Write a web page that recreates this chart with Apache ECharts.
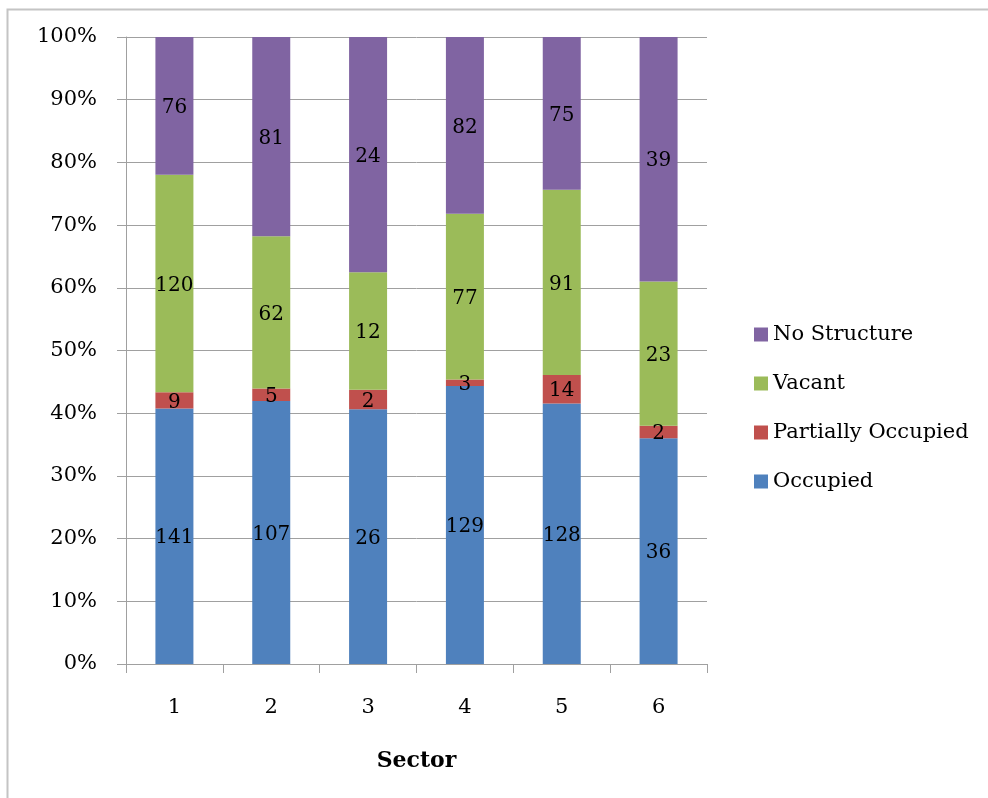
<!DOCTYPE html>
<html>
<head>
<meta charset="utf-8">
<script src="https://cdn.jsdelivr.net/npm/echarts@6/dist/echarts.min.js"></script>
<style>html,body{margin:0;padding:0;background:#fff;}#c{width:988px;height:798px;}</style>
</head>
<body>
<div id="c"></div>
<script>
const categories = ['1', '2', '3', '4', '5', '6'];
const occupied = [141, 107, 26, 129, 128, 36];
const partiallyOccupied = [9, 5, 2, 3, 14, 2];
const vacant = [120, 62, 12, 77, 91, 23];
const noStructure = [76, 81, 24, 82, 75, 39];
const yTicks = [0, 10, 20, 30, 40, 50, 60, 70, 80, 90, 100];

const totals = categories.map((_, i) => occupied[i] + partiallyOccupied[i] + vacant[i] + noStructure[i]);
const pct = arr => arr.map((v, i) => v / totals[i] * 100);

const FONT = '"DejaVu Serif", "Liberation Serif", serif';
const colors = { occ: '#4F81BD', part: '#C0504D', vac: '#9BBB59', none: '#8064A2' };

function mkSeries(name, raw, color) {
  return {
    name: name,
    type: 'bar',
    stack: 'total',
    barWidth: 38,
    data: pct(raw),
    itemStyle: { color: color },
    label: {
      show: true,
      position: 'inside',
      offset: [0, 2],
      color: '#000',
      fontFamily: FONT,
      fontSize: 20,
      formatter: p => String(raw[p.dataIndex])
    }
  };
}

const chart = echarts.init(document.getElementById('c'));
chart.setOption({
  animation: false,
  textStyle: { fontFamily: FONT },
  graphic: [{
    type: 'rect',
    shape: { x: 7.5, y: 9.5, width: 1000, height: 1000 },
    style: { fill: 'none', stroke: '#c4c4c4', lineWidth: 2 },
    z: -1
  }],
  grid: { left: 126, right: 281, top: 37, bottom: 134 },
  legend: {
    orient: 'vertical',
    left: 749,
    top: 319,
    itemWidth: 14,
    itemHeight: 14,
    itemGap: 28,
    icon: 'rect',
    data: ['No Structure', 'Vacant', 'Partially Occupied', 'Occupied'],
    textStyle: { fontFamily: FONT, fontSize: 21, color: '#000' }
  },
  xAxis: {
    type: 'category',
    data: categories,
    name: 'Sector',
    nameLocation: 'middle',
    nameGap: 86,
    nameTextStyle: { fontFamily: FONT, fontSize: 22, fontWeight: 'bold', color: '#000' },
    axisLine: { lineStyle: { color: '#a0a0a0', width: 1 } },
    axisTick: { show: true, length: 9, lineStyle: { color: '#a0a0a0' } },
    axisLabel: { fontFamily: FONT, fontSize: 21, color: '#000', margin: 33 }
  },
  yAxis: {
    type: 'value',
    min: 0,
    max: 100,
    interval: 10,
    axisLine: { show: true, lineStyle: { color: '#a0a0a0', width: 1 } },
    axisTick: { show: true, length: 9, lineStyle: { color: '#a0a0a0' } },
    splitLine: { lineStyle: { color: '#a0a0a0', width: 1 } },
    axisLabel: {
      fontFamily: FONT, fontSize: 21, color: '#000', margin: 29,
      formatter: v => (yTicks.indexOf(v) >= 0 ? v + '%' : '')
    }
  },
  series: [
    mkSeries('Occupied', occupied, colors.occ),
    mkSeries('Partially Occupied', partiallyOccupied, colors.part),
    mkSeries('Vacant', vacant, colors.vac),
    mkSeries('No Structure', noStructure, colors.none)
  ]
});
</script>
</body>
</html>
